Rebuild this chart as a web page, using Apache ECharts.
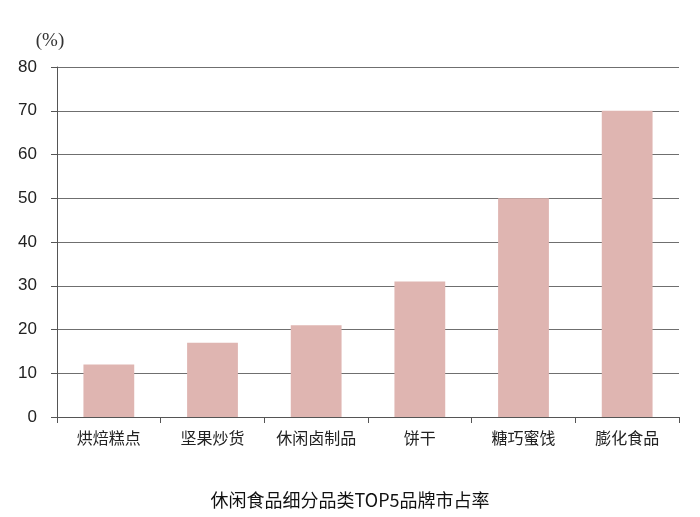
<!DOCTYPE html>
<html>
<head>
<meta charset="utf-8">
<script src="https://cdn.jsdelivr.net/npm/echarts@6/dist/echarts.min.js"></script>
<style>
  html, body { margin: 0; padding: 0; background: #fff; }
  #main { width: 700px; height: 517px; }
</style>
</head>
<body>
<div id="main"></div>
<script>
// 品类
const categories = ['烘焙糕点', '坚果炒货', '休闲卤制品', '饼干', '糖巧蜜饯', '膨化食品'];
// TOP5品牌市占率 (%)
const shareValues = [12, 17, 21, 31, 50, 70];

const chart = echarts.init(document.getElementById('main'));
const option = {
    backgroundColor: '#fff',
    animation: false,
    title: {
        text: '休闲食品细分品类TOP5品牌市占率',
        left: 'center',
        top: 486,
        textStyle: {
            fontFamily: 'Noto Sans CJK SC',
            fontSize: 18,
            fontWeight: 'normal',
            color: '#111'
        }
    },
    grid: {
        left: 57,
        right: 21,
        top: 67,
        bottom: 100
    },
    xAxis: {
        type: 'category',
        data: categories,
        axisLine: { show: true, lineStyle: { color: '#555', width: 1 } },
        axisTick: { show: true, length: 6, lineStyle: { color: '#555' } },
        axisLabel: {
            interval: 0,
            margin: 13,
            color: '#222',
            fontSize: 16,
            fontFamily: 'Noto Sans CJK SC'
        }
    },
    yAxis: {
        type: 'value',
        name: '(%)',
        nameLocation: 'end',
        nameGap: 16,
        nameTextStyle: {
            color: '#333',
            fontSize: 19,
            fontFamily: 'Liberation Serif',
            align: 'center',
            padding: [0, 0, 0, -14]
        },
        min: 0,
        max: 80,
        interval: 10,
        axisLine: { show: true, lineStyle: { color: '#555', width: 1 } },
        axisTick: { show: true, length: 6, lineStyle: { color: '#555' } },
        axisLabel: {
            margin: 20,
            color: '#222',
            fontSize: 17,
            fontFamily: 'Liberation Sans'
        },
        splitLine: { show: true, lineStyle: { color: '#6f6f6f', width: 1 } }
    },
    series: [{
        type: 'bar',
        data: shareValues,
        barWidth: '49%',
        itemStyle: { color: '#DFB5B1' }
    }]
};
chart.setOption(option);
</script>
</body>
</html>
